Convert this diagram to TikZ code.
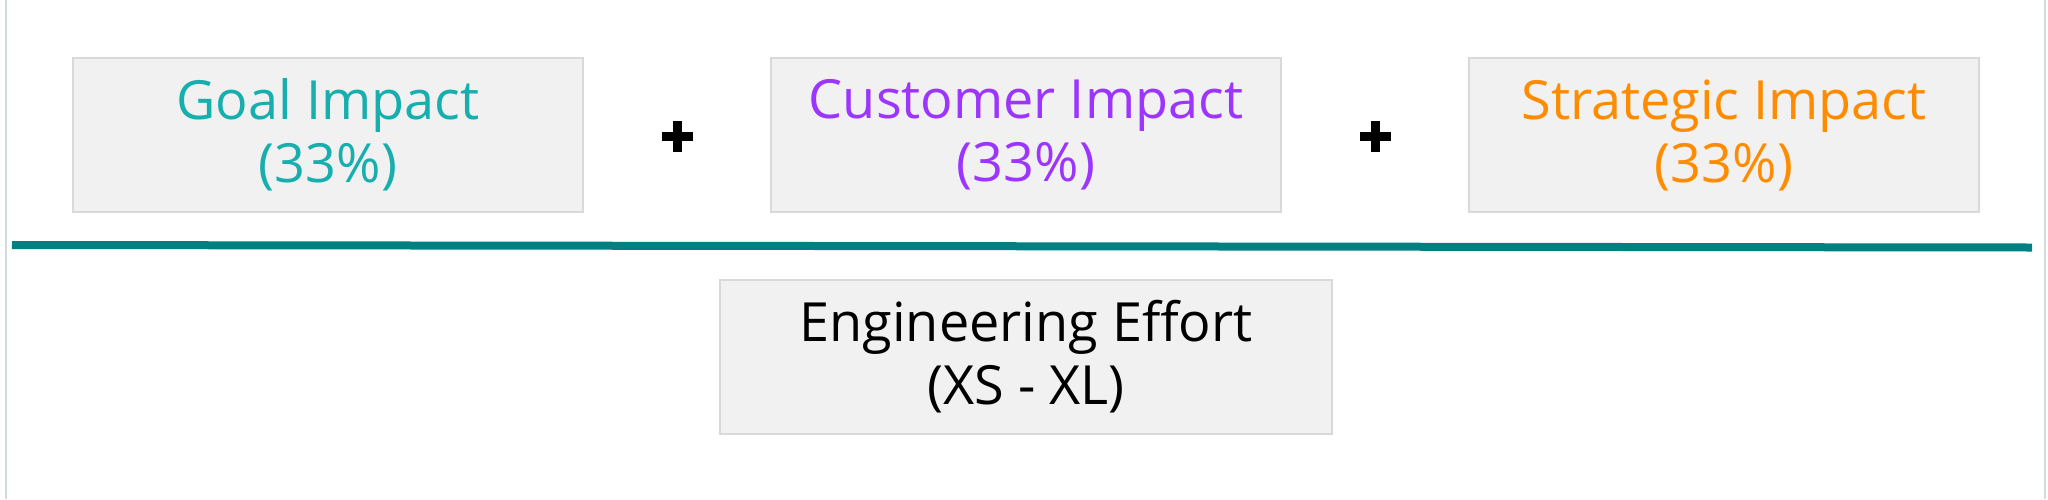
\documentclass[tikz,border=0pt]{standalone}
\usepackage{fontspec}
\setmainfont{Open Sans}
\definecolor{goalc}{HTML}{17AEAE}
\definecolor{custc}{HTML}{9B35FF}
\definecolor{stratc}{HTML}{FF8C00}
\definecolor{tealline}{HTML}{008080}
\definecolor{boxfill}{HTML}{F1F1F1}
\definecolor{boxdraw}{HTML}{D9D9D9}
\definecolor{edgec}{HTML}{D3DCDC}
\begin{document}
\begin{tikzpicture}[x=1pt,y=-1pt]
\tikzset{
  scorebox/.style={draw=boxdraw, fill=boxfill, line width=2pt, minimum width=510pt, minimum height=154pt, inner sep=0pt, align=center, font=\fontsize{54}{63}\selectfont},
  plusbar/.style={line width=9pt, black}
}
\useasboundingbox (0,0) rectangle (2048,499);
\fill[white] (0,0) rectangle (2048,499);
\draw[edgec, line width=2pt] (6,0) -- (6,499);
\draw[edgec, line width=2pt] (2045,0) -- (2045,499);
\node[scorebox, text=goalc] (goal) at (328,135) {Goal Impact\\(33\%)};
\node[scorebox, text=custc] (cust) at (1026,135) {Customer Impact\\(33\%)};
\node[scorebox, text=stratc] (strat) at (1724,135) {Strategic Impact\\(33\%)};
\node[scorebox, minimum width=612pt, text=black] (eng) at (1026,356.5) {Engineering Effort\\(XS - XL)};
\coordinate (plusA) at (677,136);
\coordinate (plusB) at (1375,136);
\draw[plusbar] ([xshift=-15.5pt]plusA) -- ([xshift=15.5pt]plusA);
\draw[plusbar] ([yshift=-15.5pt]plusA) -- ([yshift=15.5pt]plusA);
\draw[plusbar] ([xshift=-15.5pt]plusB) -- ([xshift=15.5pt]plusB);
\draw[plusbar] ([yshift=-15.5pt]plusB) -- ([yshift=15.5pt]plusB);
\coordinate (lineL) at (12,245);
\coordinate (lineR) at (2032,247.5);
\draw[tealline, line width=8pt] (lineL) -- (lineR);
\end{tikzpicture}
\end{document}
